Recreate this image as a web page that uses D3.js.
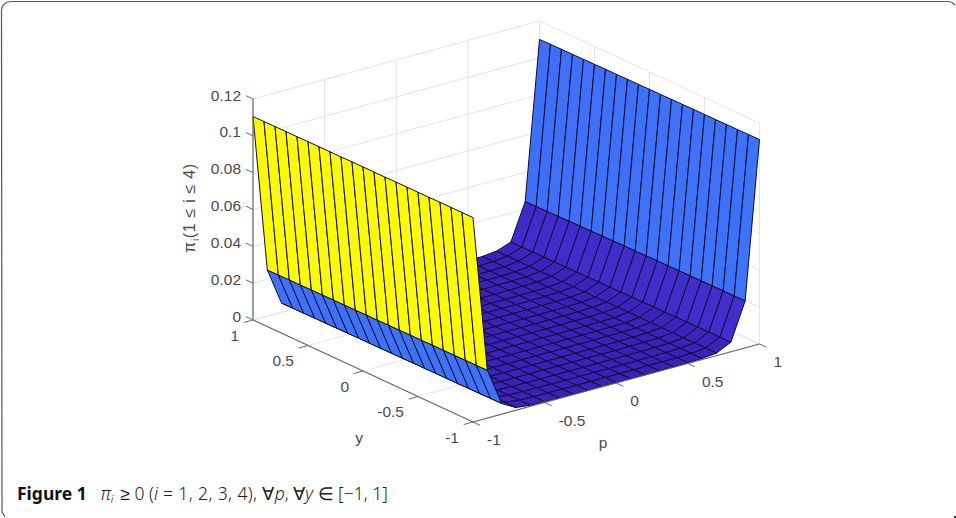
<!DOCTYPE html>
<html>
<head>
<meta charset="utf-8">
<script src="https://cdn.jsdelivr.net/npm/d3@7"></script>
<style>
  html, body { margin: 0; padding: 0; background: #fff; }
  svg { display: block; }
</style>
</head>
<body>
<div id="chart"></div>
<script>
const pValues = [-1, -0.9, -0.8, -0.7, -0.6, -0.5, -0.4, -0.3, -0.2, -0.1, 0, 0.1, 0.2, 0.3, 0.4, 0.5, 0.6, 0.7, 0.8, 0.9, 1];
const yValues = [-1, -0.9, -0.8, -0.7, -0.6, -0.5, -0.4, -0.3, -0.2, -0.1, 0, 0.1, 0.2, 0.3, 0.4, 0.5, 0.6, 0.7, 0.8, 0.9, 1];

// one row per p value, read left to right from y = -1 to y = 1
const piValues = [
  [.1110, .1110, .1110, .1110, .1109, .1109, .1109, .1109, .1108, .1108, .1108, .1108, .1107, .1107, .1107, .1107, .1106, .1106, .1106, .1105, .1105],
  [.0260, .0259, .0259, .0258, .0258, .0258, .0257, .0257, .0256, .0256, .0255, .0255, .0254, .0254, .0254, .0253, .0253, .0252, .0252, .0251, .0250],
  [.0058, .0058, .0057, .0057, .0056, .0056, .0056, .0055, .0055, .0054, .0054, .0053, .0053, .0053, .0052, .0052, .0051, .0051, .0050, .0050, .0049],
  [.0015, .0015, .0015, .0014, .0014, .0014, .0014, .0014, .0013, .0013, .0013, .0013, .0013, .0012, .0012, .0012, .0012, .0012, .0011, .0011, .0011],
  [.0006, .0006, .0006, .0006, .0005, .0005, .0005, .0005, .0005, .0005, .0005, .0005, .0005, .0005, .0005, .0004, .0004, .0004, .0004, .0004, .0004],
  [.0004, .0004, .0004, .0003, .0003, .0003, .0003, .0003, .0003, .0003, .0003, .0003, .0003, .0003, .0003, .0003, .0003, .0003, .0003, .0003, .0003],
  [.0003, .0003, .0003, .0003, .0002, .0002, .0002, .0002, .0002, .0002, .0002, .0002, .0002, .0002, .0002, .0002, .0002, .0002, .0002, .0002, .0002],
  [.0003, .0003, .0002, .0002, .0002, .0002, .0002, .0002, .0002, .0002, .0002, .0002, .0002, .0002, .0002, .0002, .0002, .0002, .0002, .0002, .0002],
  [.0002, .0002, .0002, .0002, .0002, .0002, .0002, .0002, .0002, .0002, .0002, .0002, .0002, .0002, .0002, .0002, .0002, .0002, .0002, .0002, .0002],
  [.0002, .0002, .0002, .0002, .0002, .0002, .0002, .0002, .0002, .0002, .0002, .0002, .0002, .0002, .0002, .0002, .0002, .0002, .0002, .0002, .0002],
  [.0002, .0002, .0002, .0002, .0002, .0002, .0002, .0002, .0002, .0002, .0002, .0002, .0002, .0002, .0002, .0002, .0002, .0002, .0002, .0002, .0002],
  [.0002, .0002, .0002, .0002, .0002, .0002, .0002, .0002, .0002, .0002, .0002, .0002, .0002, .0002, .0002, .0002, .0002, .0002, .0002, .0002, .0002],
  [.0002, .0002, .0002, .0002, .0002, .0002, .0002, .0002, .0002, .0002, .0002, .0002, .0002, .0002, .0002, .0002, .0002, .0002, .0002, .0002, .0002],
  [.0003, .0003, .0002, .0002, .0002, .0002, .0002, .0002, .0002, .0002, .0002, .0002, .0002, .0002, .0002, .0002, .0002, .0002, .0002, .0002, .0002],
  [.0003, .0003, .0003, .0003, .0003, .0003, .0003, .0003, .0003, .0003, .0003, .0003, .0003, .0003, .0003, .0003, .0003, .0003, .0003, .0003, .0003],
  [.0004, .0004, .0004, .0004, .0004, .0004, .0004, .0004, .0004, .0004, .0004, .0004, .0004, .0004, .0004, .0004, .0004, .0004, .0004, .0004, .0004],
  [.0006, .0006, .0006, .0006, .0006, .0006, .0006, .0006, .0006, .0006, .0006, .0006, .0006, .0006, .0006, .0006, .0006, .0006, .0006, .0006, .0006],
  [.0014, .0014, .0014, .0014, .0014, .0014, .0014, .0014, .0014, .0014, .0014, .0014, .0014, .0014, .0014, .0014, .0014, .0014, .0014, .0014, .0014],
  [.0052, .0052, .0051, .0051, .0050, .0050, .0049, .0049, .0048, .0048, .0047, .0046, .0046, .0045, .0045, .0044, .0044, .0043, .0043, .0042, .0042],
  [.0255, .0254, .0254, .0253, .0253, .0252, .0252, .0251, .0251, .0250, .0249, .0249, .0248, .0247, .0246, .0245, .0244, .0243, .0242, .0241, .0240],
  [.1110, .1110, .1109, .1109, .1108, .1108, .1108, .1107, .1107, .1106, .1106, .1105, .1105, .1104, .1104, .1103, .1103, .1102, .1102, .1101, .1100]
];

const pTicks = [-1, -0.5, 0, 0.5, 1];
const yTicks = [-1, -0.5, 0, 0.5, 1];
const zTicks = [0, 0.02, 0.04, 0.06, 0.08, 0.1, 0.12];

const width = 956, height = 518;
const origin = {x: 473, y: 422}; // the corner p = -1, y = -1, z = 0

// each data axis moves the point along its own direction on the page
const pToX = d3.scaleLinear().domain([-1, 1]).range([0, 286.5]);
const pToY = d3.scaleLinear().domain([-1, 1]).range([0, -78]);
const yToX = d3.scaleLinear().domain([-1, 1]).range([0, -220]);
const yToY = d3.scaleLinear().domain([-1, 1]).range([0, -102]);
const zToY = d3.scaleLinear().domain([0, 0.12]).range([0, -221]);

const project = (p, y, z) => [
  origin.x + pToX(p) + yToX(y),
  origin.y + pToY(p) + yToY(y) + zToY(z)
];

// parula, as the surface uses it
const color = d3.scaleLinear()
  .domain([0, 0.0122, 0.0244, 0.0366, 0.0488, 0.061, 0.0732, 0.0854, 0.0976, 0.111])
  .range(["#3b1fb8", "#4743ea", "#3e70fa", "#2a8ced", "#12a9c9", "#2fbb95", "#8bbf55", "#d7ba3a", "#fcd02c", "#fbfb05"]);

const svg = d3.select("#chart").append("svg")
  .attr("width", width)
  .attr("height", height);

// page frame: only the left and top sides are drawn, it is cut off on the others
svg.append("path")
  .attr("d", "M5,517 L2,512 L1.5,12 Q1.5,1.5 12,1.5 L948,1.5 Q952,1.5 955,5")
  .attr("fill", "none")
  .attr("stroke", "#555")
  .attr("stroke-width", 1.2);
svg.append("rect")
  .attr("x", 954)
  .attr("y", 516)
  .attr("width", 2)
  .attr("height", 2)
  .attr("fill", "#333");

const line3d = (a, b, stroke, w) => {
  const s = project(...a), e = project(...b);
  return svg.append("line")
    .attr("x1", s[0]).attr("y1", s[1])
    .attr("x2", e[0]).attr("y2", e[1])
    .attr("stroke", stroke)
    .attr("stroke-width", w);
};

// grid on the floor and the two back walls
const gridColor = "#e4e4e4";
pTicks.forEach(p => {
  line3d([p, -1, 0], [p, 1, 0], gridColor, 1);
  line3d([p, 1, 0], [p, 1, 0.12], gridColor, 1);
});
yTicks.forEach(y => {
  line3d([-1, y, 0], [1, y, 0], gridColor, 1);
  line3d([1, y, 0], [1, y, 0.12], gridColor, 1);
});
zTicks.forEach(z => {
  line3d([-1, 1, z], [1, 1, z], gridColor, 1);
  line3d([1, 1, z], [1, -1, z], gridColor, 1);
});

// surface cells, painted back to front
const cells = [];
for (let i = pValues.length - 2; i >= 0; i--) {
  for (let j = yValues.length - 2; j >= 0; j--) {
    cells.push({i, j});
  }
}

svg.append("g")
  .selectAll("path")
  .data(cells)
  .join("path")
  .attr("d", ({i, j}) => d3.line()([
    project(pValues[i], yValues[j], piValues[i][j]),
    project(pValues[i + 1], yValues[j], piValues[i + 1][j]),
    project(pValues[i + 1], yValues[j + 1], piValues[i + 1][j + 1]),
    project(pValues[i], yValues[j + 1], piValues[i][j + 1])
  ]) + "Z")
  .attr("fill", ({i, j}) => color(piValues[i][j]))
  .attr("stroke", "#100c30")
  .attr("stroke-width", 1)
  .attr("stroke-linejoin", "round");

// axes
const axisColor = "#6a6a6a";
const tickLength = 0.065;
line3d([-1, 1, 0], [-1, 1, 0.12], axisColor, 1.2);
line3d([-1, 1, 0], [-1, -1, 0], axisColor, 1.2);
line3d([-1, -1, 0], [1, -1, 0], axisColor, 1.2);

zTicks.forEach(z => line3d([-1, 1, z], [-1, 1 + tickLength, z], axisColor, 1));
yTicks.forEach(y => line3d([-1, y, 0], [-1 - tickLength, y, 0], axisColor, 1));
pTicks.forEach(p => line3d([p, -1, 0], [p, -1 - tickLength, 0], axisColor, 1));

const labelColor = "#4a4a4a";
const labelFont = "'Liberation Sans', Arial, sans-serif";
const label = (x, y, anchor) => svg.append("text")
  .attr("x", x)
  .attr("y", y)
  .attr("text-anchor", anchor)
  .attr("font-family", labelFont)
  .attr("font-size", 15.5)
  .attr("fill", labelColor);

zTicks.forEach(z => {
  const t = project(-1, 1, z);
  label(241, t[1] + 1.5, "end").text(z);
});
yTicks.forEach(y => {
  const t = project(-1, y, 0);
  label(t[0] - 14, t[1] + 20.5, "end").text(y);
});
pTicks.forEach(p => {
  const t = project(p, -1, 0);
  label(t[0] + 14, t[1] + 23, "start").text(p);
});

label(359, 443, "middle").text("y");
label(603, 448, "middle").text("p");

const zLabel = svg.append("text")
  .attr("transform", "translate(195,208) rotate(-90)")
  .attr("text-anchor", "middle")
  .attr("font-family", labelFont)
  .attr("font-size", 16)
  .attr("letter-spacing", 0.7)
  .attr("fill", labelColor);
zLabel.append("tspan").text("π");
zLabel.append("tspan").attr("font-size", 10).attr("dy", 4).text("i");
zLabel.append("tspan").attr("dy", -4).text("(1 ≤ i ≤ 4)");

// caption
const caption = svg.append("text")
  .attr("x", 17)
  .attr("y", 500)
  .attr("font-family", "'Noto Sans', sans-serif")
  .attr("font-size", 17.5)
  .attr("font-weight", 300)
  .attr("fill", "#222");
caption.append("tspan").attr("font-weight", 700).attr("fill", "#111").text("Figure 1");
caption.append("tspan").attr("dx", 14).attr("font-style", "italic").text("π");
caption.append("tspan").attr("dy", 3).attr("font-size", 11).attr("font-style", "italic").text("i");
caption.append("tspan").attr("dy", -3).attr("dx", 7).text("≥ 0 (");
caption.append("tspan").attr("font-style", "italic").text("i");
caption.append("tspan").attr("letter-spacing", 0.4).text(" = 1, 2, 3, 4), ∀");
caption.append("tspan").attr("font-style", "italic").text("p");
caption.append("tspan").text(", ∀");
caption.append("tspan").attr("font-style", "italic").text("y");
caption.append("tspan").text(" ∈ [−1, 1]");
</script>
</body>
</html>
